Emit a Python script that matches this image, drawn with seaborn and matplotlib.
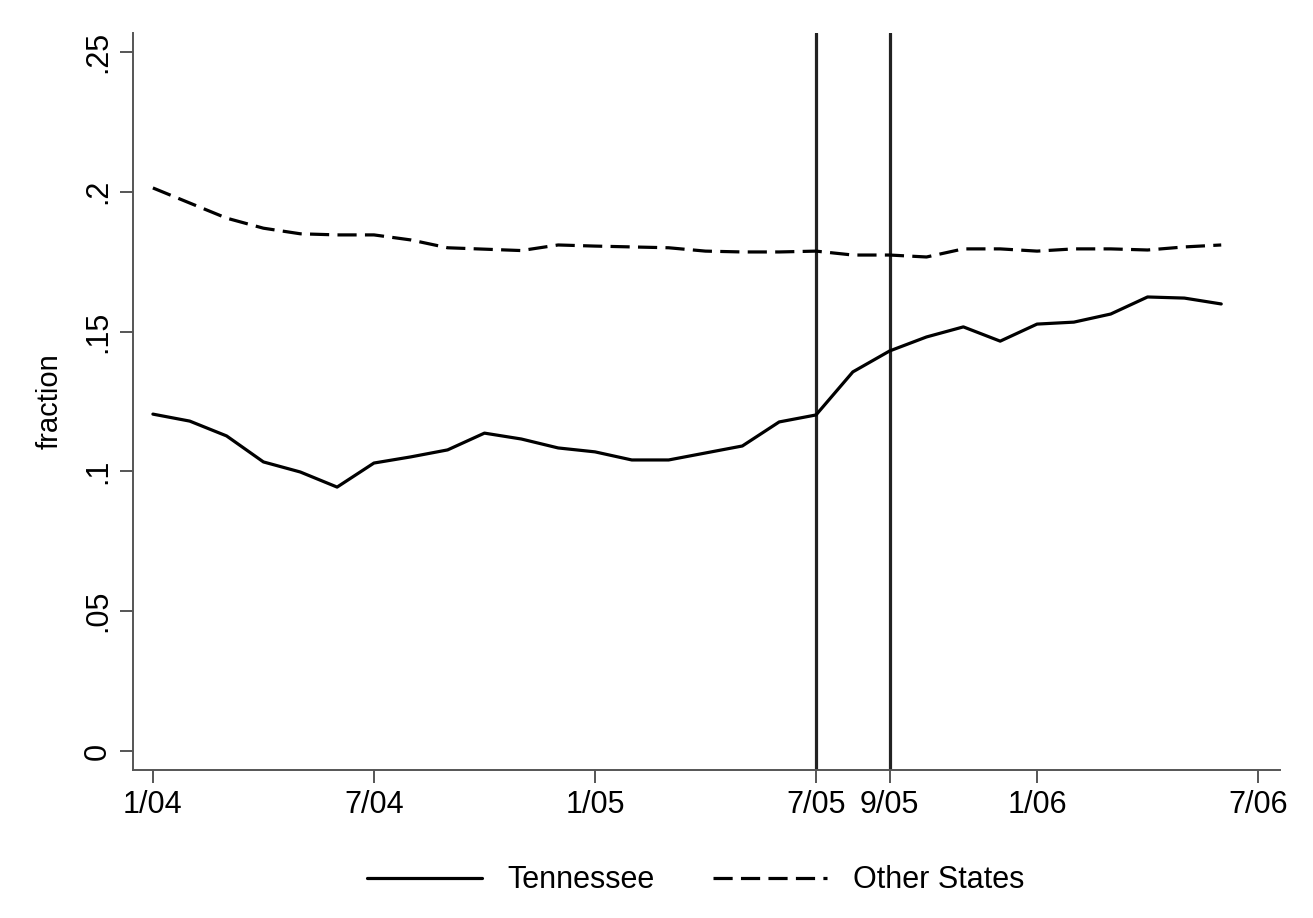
import numpy as np
import pandas as pd
import matplotlib
matplotlib.use("Agg")
import matplotlib.pyplot as plt
import seaborn as sns

# ---- data (monthly, 1/04 .. 6/06) ----
months = ["1/04", "2/04", "3/04", "4/04", "5/04", "6/04", "7/04", "8/04", "9/04", "10/04",
          "11/04", "12/04", "1/05", "2/05", "3/05", "4/05", "5/05", "6/05", "7/05", "8/05",
          "9/05", "10/05", "11/05", "12/05", "1/06", "2/06", "3/06", "4/06", "5/06", "6/06"]
tennessee = [0.1205, 0.1180, 0.1127, 0.1034, 0.0998, 0.0944, 0.1030, 0.1052, 0.1077, 0.1137,
             0.1116, 0.1084, 0.1070, 0.1041, 0.1041, 0.1066, 0.1091, 0.1177, 0.1202, 0.1356,
             0.1431, 0.1481, 0.1517, 0.1466, 0.1527, 0.1534, 0.1563, 0.1624, 0.1620, 0.1599]
other_states = [0.2014, 0.1960, 0.1906, 0.1870, 0.1850, 0.1846, 0.1846, 0.1828, 0.1800, 0.1795,
                0.1790, 0.1810, 0.1806, 0.1803, 0.1800, 0.1788, 0.1785, 0.1785, 0.1788, 0.1774,
                0.1774, 0.1767, 0.1796, 0.1796, 0.1788, 0.1796, 0.1796, 0.1792, 0.1803, 0.1810]
series_names = ["Tennessee", "Other States"]
xtick_labels = ["1/04", "7/04", "1/05", "7/05", "9/05", "1/06", "7/06"]
xtick_pos = [0, 6, 12, 18, 20, 24, 30]
event_months = [18, 20]  # 7/05 and 9/05
ytick_vals = [0, 0.05, 0.10, 0.15, 0.20, 0.25]
ytick_labels = ["0", ".05", ".1", ".15", ".2", ".25"]

idx = np.arange(len(months))
df = pd.DataFrame({
    "t": np.concatenate([idx, idx]),
    "fraction": tennessee + other_states,
    "series": [series_names[0]] * len(idx) + [series_names[1]] * len(idx),
})

sns.set_style("ticks")
plt.rcParams["font.family"] = ["Liberation Sans", "DejaVu Sans"]
fs = 22
plt.rcParams["text.color"] = "black"
plt.rcParams["axes.labelcolor"] = "black"
plt.rcParams["xtick.color"] = "black"
plt.rcParams["ytick.color"] = "black"

fig = plt.figure(figsize=(13.13, 9.18), dpi=100)
ax = fig.add_axes([0.1013, 0.1612, 0.975 - 0.1013, 0.964 - 0.1612])

sns.lineplot(data=df, x="t", y="fraction", hue="series", style="series",
             palette={series_names[0]: "black", series_names[1]: "black"},
             dashes={series_names[0]: "", series_names[1]: (6, 2.6)},
             linewidth=2.3, ax=ax, legend=True)

for m in event_months:
    ax.axvline(m, color="#222222", lw=2.3, zorder=1)

ax.set_xlim(-0.54, 30.6)
ax.set_ylim(-0.0068, 0.2568)
ax.set_xticks(xtick_pos)
ax.set_xticklabels(xtick_labels, fontsize=fs)
ax.set_yticks(ytick_vals)
ax.set_yticklabels(ytick_labels, fontsize=fs, rotation=90, va="center")
ax.set_xlabel("")
ax.set_ylabel("fraction", fontsize=fs - 1, labelpad=14)

for s in ["top", "right"]:
    ax.spines[s].set_visible(False)
for s in ["left", "bottom"]:
    ax.spines[s].set_color("#555555")
    ax.spines[s].set_linewidth(1.4)
ax.tick_params(axis="both", direction="out", length=9.5, width=1.4, color="#555555",
               labelcolor="black", pad=5)

handles, labels = ax.get_legend_handles_labels()
ax.legend_.remove()
fig.legend(handles, labels, loc="center", bbox_to_anchor=(0.530, 0.041), ncol=2,
           frameon=False, fontsize=fs, handlelength=3.75,
           handletextpad=0.85, columnspacing=1.9)

fig.savefig("out.png", dpi=100, facecolor="white")
